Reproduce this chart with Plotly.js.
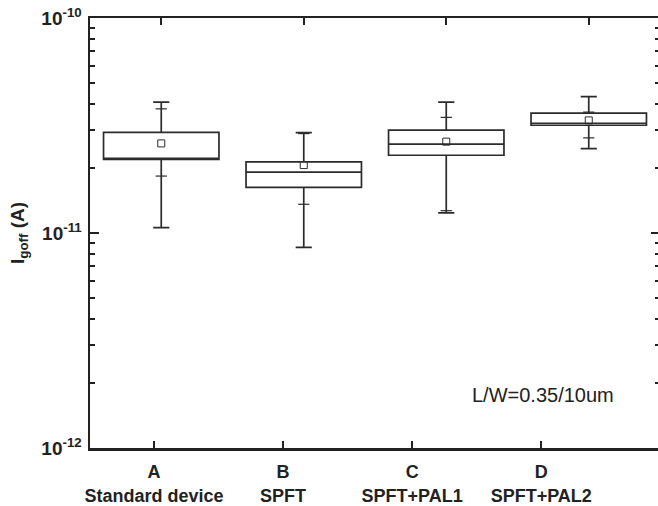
<!DOCTYPE html>
<html>
<head>
<meta charset="utf-8">
<script src="https://cdn.plot.ly/plotly-3.0.1.min.js"></script>
<style>
html,body{margin:0;padding:0;overflow:hidden;background:#fff;}
#chart{width:662px;height:506px;}
</style>
</head>
<body>
<div id="chart"></div>
<script>
// ---- data ----
var categories = ['A<br>Standard device', 'B<br>SPFT', 'C<br>SPFT+PAL1', 'D<br>SPFT+PAL2'];
var positions = [1, 2, 3, 4];
var q1 = [2.20e-11, 1.63e-11, 2.30e-11, 3.17e-11];
var median = [2.21e-11, 1.92e-11, 2.59e-11, 3.24e-11];
var q3 = [2.94e-11, 2.14e-11, 3.01e-11, 3.61e-11];
var lowerWhisker = [1.06e-11, 8.57e-12, 1.24e-11, 2.47e-11];
var upperWhisker = [4.06e-11, 2.93e-11, 4.06e-11, 4.31e-11];
var meanVals = [2.61e-11, 2.07e-11, 2.66e-11, 3.34e-11];
var p01 = [1.84e-11, 1.36e-11, 1.27e-11, 2.77e-11];
var p99 = [3.78e-11, 2.90e-11, 3.45e-11, 3.65e-11];
var yTickVals = [1e-12, 1e-11, 1e-10];
var yTickText = ['10<sup>-12</sup>', '10<sup>-11</sup>', '10<sup>-10</sup>'];
var annotationText = 'L/W=0.35/10um';

var ink = '#2b2b2b';

var traces = [
  {
    type: 'box', xaxis: 'x2', yaxis: 'y',
    x: positions, q1: q1, median: median, q3: q3,
    lowerfence: lowerWhisker, upperfence: upperWhisker,
    boxpoints: false, width: 0.81, whiskerwidth: 0.14,
    fillcolor: 'rgba(0,0,0,0)',
    line: {color: ink, width: 1.7},
    hoverinfo: 'skip', showlegend: false
  },
  {
    type: 'scatter', mode: 'markers', xaxis: 'x2', yaxis: 'y',
    x: positions, y: meanVals,
    marker: {symbol: 'square-open', size: 7, color: ink, line: {width: 1, color: ink}},
    showlegend: false, hoverinfo: 'skip'
  },
  {
    type: 'scatter', mode: 'markers', xaxis: 'x2', yaxis: 'y',
    x: positions.concat(positions), y: p01.concat(p99),
    marker: {symbol: 'line-ew', size: 8, color: ink, line: {width: 1.2, color: ink}},
    showlegend: false, hoverinfo: 'skip'
  },
  {
    type: 'scatter', mode: 'markers', xaxis: 'x', yaxis: 'y',
    x: positions, y: [null, null, null, null],
    showlegend: false, hoverinfo: 'skip'
  }
];

var minorVals = [];
[-12, -11].forEach(function (e) {
  for (var d = 2; d <= 9; d++) minorVals.push(d * Math.pow(10, e));
});

var axisLine = {showline: true, linewidth: 2.5, linecolor: '#222', showgrid: false, zeroline: false};

var layout = {
  width: 662, height: 506,
  margin: {l: 90, r: 2, t: 18, b: 58},
  paper_bgcolor: '#fff', plot_bgcolor: '#fff',
  font: {family: 'Liberation Sans, Arial, sans-serif', color: '#222'},
  xaxis: Object.assign({}, axisLine, {
    range: [0.504, 4.92], tickmode: 'array', tickvals: positions, ticktext: categories,
    ticks: 'inside', ticklen: 7, tickwidth: 2, tickcolor: '#222',
    ticklabelstandoff: 6,
    tickfont: {size: 18, weight: 'bold', color: '#222'}
  }),
  xaxis2: Object.assign({}, axisLine, {
    overlaying: 'x', side: 'top', anchor: 'y',
    range: [0.5, 4.5], tickmode: 'array', tickvals: positions, showticklabels: false,
    ticks: 'inside', ticklen: 7, tickwidth: 2, tickcolor: '#222'
  }),
  yaxis: Object.assign({}, axisLine, {
    type: 'log', range: [-12, -10], tickmode: 'array', tickvals: yTickVals, ticktext: yTickText,
    mirror: 'ticks',
    ticks: 'inside', ticklen: 9, tickwidth: 2, tickcolor: '#222',
    ticklabelstandoff: 2,
    tickfont: {size: 19, weight: 'bold', color: '#222'},
    minor: {tickmode: 'array', tickvals: minorVals, ticks: 'inside', ticklen: 5, tickwidth: 2, tickcolor: '#222', showgrid: false},
    title: {text: 'I<sub>goff</sub> (A)', font: {size: 19, weight: 'bold', color: '#222'}, standoff: 12}
  }),
  annotations: [{
    text: annotationText, xref: 'paper', yref: 'paper', x: 0.795, y: 0.123,
    xanchor: 'center', yanchor: 'middle',
    showarrow: false, font: {size: 20, color: '#222'}
  }]
};

Plotly.newPlot('chart', traces, layout, {displayModeBar: false, staticPlot: true});
</script>
</body>
</html>
